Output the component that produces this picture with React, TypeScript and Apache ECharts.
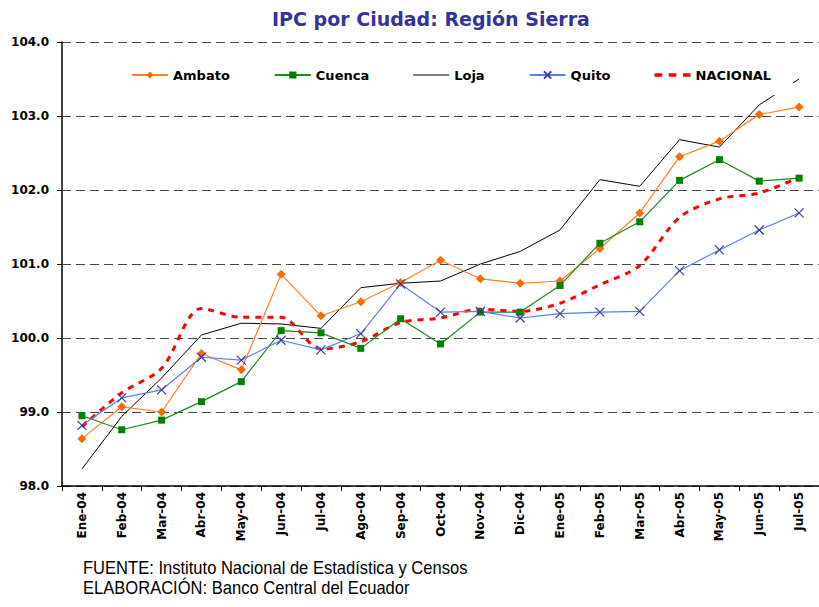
import React, { useEffect, useRef } from 'react';
import * as echarts from 'echarts';

const categories = ['Ene-04', 'Feb-04', 'Mar-04', 'Abr-04', 'May-04', 'Jun-04', 'Jul-04', 'Ago-04', 'Sep-04', 'Oct-04', 'Nov-04', 'Dic-04', 'Ene-05', 'Feb-05', 'Mar-05', 'Abr-05', 'May-05', 'Jun-05', 'Jul-05'];
const ambato = [98.64, 99.07, 99.0, 99.79, 99.57, 100.86, 100.3, 100.49, 100.75, 101.05, 100.8, 100.74, 100.77, 101.21, 101.69, 102.45, 102.66, 103.02, 103.12];
const cuenca = [98.95, 98.76, 98.89, 99.14, 99.41, 100.1, 100.07, 99.86, 100.26, 99.92, 100.35, 100.35, 100.71, 101.28, 101.57, 102.13, 102.41, 102.12, 102.16];
const loja = [98.23, 98.94, 99.46, 100.04, 100.2, 100.19, 100.13, 100.68, 100.74, 100.77, 101.0, 101.17, 101.46, 102.14, 102.05, 102.68, 102.58, 103.15, 103.5];
const quito = [98.82, 99.19, 99.3, 99.74, 99.7, 99.97, 99.84, 100.06, 100.73, 100.35, 100.36, 100.27, 100.33, 100.35, 100.36, 100.91, 101.19, 101.46, 101.69];
const nacional = [98.8, 99.26, 99.59, 100.4, 100.28, 100.28, 99.85, 99.95, 100.21, 100.27, 100.39, 100.36, 100.47, 100.72, 100.98, 101.63, 101.88, 101.96, 102.17];
const yMin = 98;
const yMax = 104;
const yStep = 1;

const titleText = 'IPC por Ciudad: Región Sierra';
const footer1 = 'FUENTE: Instituto Nacional de Estadística y Censos';
const footer2 = 'ELABORACIÓN: Banco Central del Ecuador';

const FONT = '"DejaVu Sans", Arial, sans-serif';
const FOOT_FONT = '"Liberation Sans Narrow", "Liberation Sans", Arial, sans-serif';

export default function App() {
  const ref = useRef<HTMLDivElement>(null);
  useEffect(() => {
    document.body.style.margin = '0';
    const chart = echarts.init(ref.current!, null, { renderer: 'svg' });
    chart.setOption({
      animation: false,
      backgroundColor: '#fff',
      title: {
        text: titleText,
        left: 267,
        top: 4,
        textStyle: { fontFamily: FONT, fontWeight: 'bold', fontSize: 19, color: '#333399' },
      },
      legend: {
        left: 118,
        top: 60,
        padding: [7, 22, 12, 13],
        backgroundColor: '#ffffff',
        itemWidth: 36,
        itemHeight: 9,
        itemGap: 44,
        textStyle: { fontFamily: FONT, fontWeight: 'bold', fontSize: 13, color: '#000', lineHeight: 16 },
        data: [
          { name: 'Ambato' },
          { name: 'Cuenca' },
          { name: 'Loja', icon: 'path://M0,0L36,0L36,1.2L0,1.2Z' },
          { name: 'Quito' },
          { name: 'NACIONAL', icon: 'path://M0,0h7v3h-7zM13,0h7v3h-7zM26,0h7v3h-7z' },
        ],
      },
      grid: { left: 62, top: 42, height: 444, width: 767 },
      xAxis: {
        type: 'category',
        data: categories,
        boundaryGap: true,
        axisLine: { lineStyle: { color: '#000', width: 1.5 } },
        axisTick: { show: true, length: 5, lineStyle: { color: '#000' }, alignWithLabel: false },
        axisLabel: { rotate: 90, margin: 6, fontFamily: FONT, fontWeight: 'bold', fontSize: 12, color: '#000', interval: 0 },
        splitLine: { show: false },
      },
      yAxis: {
        type: 'value',
        min: yMin,
        max: yMax,
        interval: yStep,
        axisLine: { show: true, lineStyle: { color: '#000', width: 1.5 } },
        axisTick: { show: true, length: 5, lineStyle: { color: '#000' } },
        axisLabel: { margin: 13, fontFamily: FONT, fontWeight: 'bold', fontSize: 12, color: '#000', formatter: (v: number) => v.toFixed(1) },
        splitLine: { show: true, lineStyle: { color: '#444', width: 1, type: [9, 5] } },
      },
      series: [
        {
          name: 'Ambato', type: 'line', data: ambato, symbol: 'diamond', symbolSize: 9, showAllSymbol: true,
          lineStyle: { color: '#ff7f27', width: 1.2 }, itemStyle: { color: '#ff6a00' }, z: 3,
        },
        {
          name: 'Cuenca', type: 'line', data: cuenca, symbol: 'rect', symbolSize: 7, showAllSymbol: true,
          lineStyle: { color: '#1a8a1a', width: 1.2 }, itemStyle: { color: '#008000' }, z: 3,
        },
        {
          name: 'Loja', type: 'line', data: loja, symbol: 'none',
          lineStyle: { color: '#000', width: 1 }, itemStyle: { color: '#000' }, z: 2,
        },
        {
          name: 'Quito', type: 'line', data: quito, symbol: 'path://M0,0L10,10M10,0L0,10', symbolSize: 9, showAllSymbol: true,
          lineStyle: { color: '#5580f2', width: 1.2 }, itemStyle: { color: '#3b3b9e', borderColor: '#3b3b9e', borderWidth: 1.2 }, z: 3,
        },
        {
          name: 'NACIONAL', type: 'line', data: nacional, symbol: 'none', smooth: 0.3,
          lineStyle: { color: '#ff0000', width: 3, type: [6, 6] }, itemStyle: { color: '#ff0000' }, z: 2,
        },
      ],
      graphic: [
        { type: 'text', x: 83, y: 559, scaleX: 0.92, style: { text: footer1, fontFamily: FOOT_FONT, fontSize: 18, fill: '#000', textVerticalAlign: 'top' } },
        { type: 'text', x: 83, y: 579, scaleX: 0.92, style: { text: footer2, fontFamily: FOOT_FONT, fontSize: 18, fill: '#000', textVerticalAlign: 'top' } },
      ],
    });
    return () => chart.dispose();
  }, []);
  return <div ref={ref} style={{ width: 819, height: 607 }} />;
}
